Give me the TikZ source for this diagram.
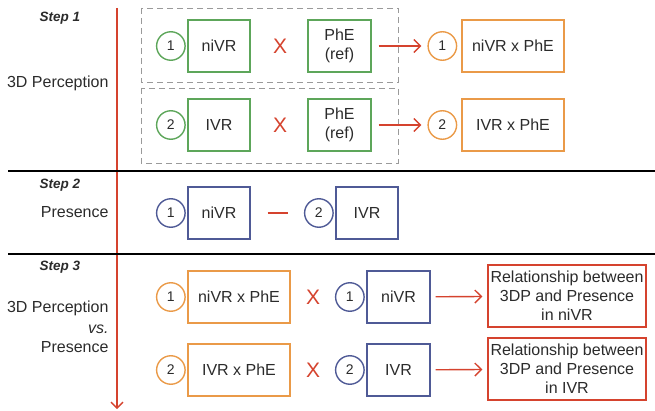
\documentclass[tikz,border=0pt]{standalone}
\usepackage{fontspec}
\setmainfont{Liberation Sans}
\usetikzlibrary{positioning, arrows.meta}
\definecolor{ink}{HTML}{2B2B2B}
\definecolor{xred}{HTML}{D5432E}
\definecolor{xgreen}{HTML}{5DA65A}
\definecolor{xorange}{HTML}{EA9A48}
\definecolor{xblue}{HTML}{4F5A96}
\definecolor{xgray}{HTML}{9A9A9A}

\begin{document}
\begin{tikzpicture}[x=1pt, y=-1pt,
    every node/.style={font=\fontsize{16}{19}\selectfont, text=ink},
    box/.style={draw, rectangle, line width=1.4pt, minimum height=52pt, inner sep=2pt, align=center},
    num/.style={draw, circle, line width=1.4pt, minimum size=28.5pt, inner sep=0pt, font=\fontsize{14}{16}\selectfont},
    cross/.style={text=xred, font=\fontsize{21}{21}\selectfont},
    lbl/.style={anchor=east, align=right},
    steplbl/.style={font=\fontsize{13.5}{16}\selectfont\bfseries\itshape},
    link/.style={-{Straight Barb[length=6.5pt, width=13pt]}, xred, line width=1.4pt, shorten <=7pt, shorten >=6pt}]
  \useasboundingbox (0,0) rectangle (655,411);

  % axis and separators
  \coordinate (top) at (117,8);
  \coordinate (bot) at (117,409);
  \draw[xred, line width=1.4pt, -{Straight Barb[length=6pt, width=12pt]}] (top) -- (bot);
  \draw[line width=1.8pt] (8,171) -- (655,171);
  \draw[line width=1.8pt] (8,254) -- (655,254);

  % step 1
  \node[steplbl] (s1) at (60,18) {Step 1};
  \node[lbl] (p1) at (112,83) {3D Perception};
  \draw[xgray, line width=0.9pt, dash pattern=on 6pt off 4pt] (141,8) rectangle (398,82);
  \draw[xgray, line width=0.9pt, dash pattern=on 6pt off 4pt] (141,88) rectangle (398,163);
  \foreach \i/\y/\vr in {1/46/niVR, 2/125/IVR}{
    \node[box, draw=xgreen, minimum width=62pt] (vr\i) at (219,\y) {\vr};
    \node[num, draw=xgreen, left=1.5pt of vr\i] (n\i) {\i};
    \node[cross] (x\i) at (280,\y) {X};
    \node[box, draw=xgreen, minimum width=63pt] (ref\i) at (339.5,\y) {PhE\\(ref)};
    \node[box, draw=xorange, minimum width=102pt] (ph\i) at (513,\y) {\vr{} x PhE};
    \node[num, draw=xorange, left=4pt of ph\i] (m\i) {\i};
    \draw[link] (ref\i) -- (m\i);
  };

  % step 2
  \node[steplbl] (s2) at (60,185) {Step 2};
  \node[lbl] (p2) at (112,212) {Presence};
  \node[box, draw=xblue, minimum width=62pt] (pa) at (219,213) {niVR};
  \node[num, draw=xblue, left=1.5pt of pa] (na) {1};
  \node[box, draw=xblue, minimum width=62pt] (pb) at (367,213) {IVR};
  \node[num, draw=xblue, left=1.5pt of pb] (nb) {2};
  \draw[xred, line width=1.4pt, shorten <=17pt, shorten >=16pt] (pa) -- (nb);

  % step 3
  \node[steplbl] (s3) at (60,267) {Step 3};
  \node[lbl] (p3) at (112,308) {3D Perception};
  \node[lbl, font=\fontsize{16}{19}\selectfont\itshape] (vs) at (112,329) {vs.};
  \node[lbl] (p4) at (112,347) {Presence};
  \foreach \i/\y/\vr in {1/297/niVR, 2/370/IVR}{
    \node[box, draw=xorange, minimum width=102pt] (q\i) at (239,\y) {\vr{} x PhE};
    \node[num, draw=xorange, left=1.5pt of q\i] (k\i) {\i};
    \node[cross] (y\i) at (313,\y) {X};
    \node[box, draw=xblue, minimum width=63pt] (r\i) at (398.5,\y) {\vr};
    \node[num, draw=xblue, left=1.5pt of r\i] (j\i) {\i};
    \node[box, draw=xred, minimum width=158pt, minimum height=62pt] (rel\i) at (567,\y-1)
      {Relationship between\\3DP and Presence\\in \vr};
    \draw[link, shorten <=5pt, shorten >=5pt] (r\i) -- (rel\i);
  };
\end{tikzpicture}
\end{document}
